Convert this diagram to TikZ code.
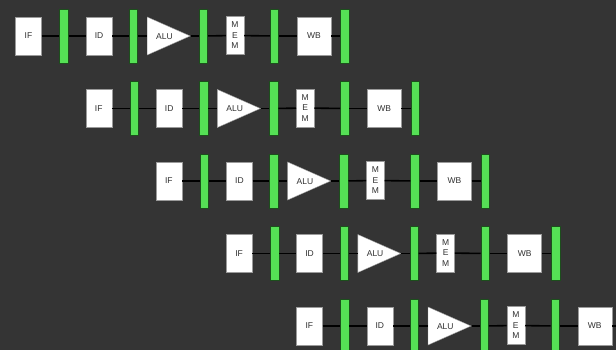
\documentclass[tikz,border=0pt]{standalone}
\usepackage{fontspec}
\setmainfont{Liberation Sans}
\usetikzlibrary{shapes.geometric}

\definecolor{bg}{HTML}{343434}
\definecolor{latchfill}{HTML}{55E055}
\definecolor{latchedge}{HTML}{1C4F1C}
\definecolor{ink}{HTML}{303030}
\definecolor{boxedge}{HTML}{9A9A9A}

\tikzset{
  stagebox/.style={draw=boxedge, fill=white, line width=0.4pt, minimum height=38pt,
    inner sep=0pt, font=\fontsize{8.5}{10.5}\selectfont, text=ink, align=center},
  latch/.style={fill=latchfill, draw=latchedge, line width=0.7pt,
    minimum width=8.5pt, minimum height=54pt, inner sep=0pt},
  alushape/.style={isosceles triangle, isosceles triangle stretches,
    shape border rotate=0, fill=white, draw=boxedge, line width=0.4pt,
    minimum height=43pt, minimum width=38pt, inner sep=0pt},
  alutext/.style={inner sep=0pt, font=\fontsize{8.5}{10}\selectfont, text=ink},
  wire/.style={black, line width=1.6pt}
}

\begin{document}
\begin{tikzpicture}[x=1pt, y=-1pt]
  % backdrop and page frame
  \fill[bg] (0,0) rectangle (616,350);
  \useasboundingbox (0,0) rectangle (616,350);
  \clip (0,0) rectangle (616,350);

  % five pipelined instructions, each one stage later than the previous
  \foreach \k in {0,...,4} {
    \begin{scope}[shift={(70.2*\k, 72.5*\k)}]
      \node[stagebox, minimum width=26pt] (if\k)  at (28.5,36) {IF};
      \node[latch]                         (la\k)  at (64,36)   {};
      \node[stagebox, minimum width=26pt] (id\k)  at (99,36)   {ID};
      \node[latch]                         (lb\k)  at (133.5,36) {};
      \node[alushape, anchor=lower side]   (alu\k) at (147,36)  {};
      \node[alutext]                       (alut\k) at (164.5,36.5) {ALU};
      \node[latch]                         (lc\k)  at (203.5,36) {};
      \node[stagebox, minimum width=18pt] (mem\k) at (235,35.5) {M\\E\\M};
      \node[latch]                         (ld\k)  at (274.5,36) {};
      \node[stagebox, minimum width=34pt] (wb\k)  at (314,36)  {WB};
      \node[latch]                         (le\k)  at (345,36)  {};

      \draw[wire] (if\k) -- (la\k);
      \draw[wire] (la\k) -- (id\k);
      \draw[wire] (id\k) -- (lb\k);
      \draw[wire] (lb\k) -- (alu\k);
      \draw[wire] (alu\k) -- (lc\k);
      \draw[wire] (lc\k) -- (mem\k);
      \draw[wire] (mem\k) -- (ld\k);
      \draw[wire] (ld\k) -- (wb\k);
      \draw[wire] (wb\k) -- (le\k);
    \end{scope}
  }
\end{tikzpicture}
\end{document}
